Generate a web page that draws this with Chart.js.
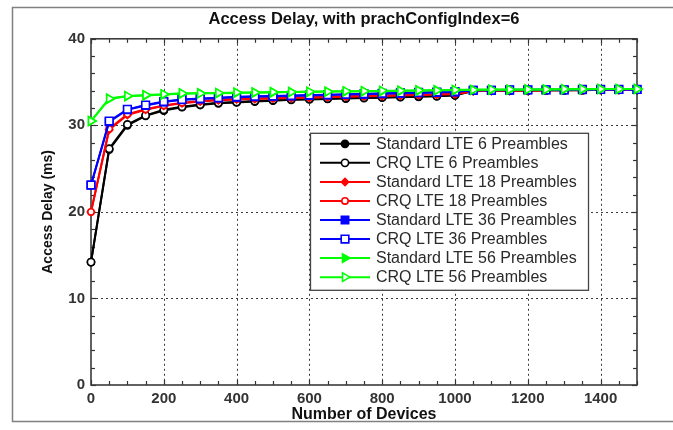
<!DOCTYPE html>
<html><head><meta charset="utf-8">
<script src="https://cdn.jsdelivr.net/npm/chart.js@4"></script>
<style>html,body{margin:0;padding:0;background:#fff}#c{display:block}</style>
</head><body>
<canvas id="c" width="673" height="430"></canvas>
<script>
// ---------- DATA ----------
const devices = [0,50,100,150,200,250,300,350,400,450,500,550,600,650,700,750,800,850,900,950,1000,1050,1100,1150,1200,1250,1300,1350,1400,1450,1500];
const std6  = [14.2,27.2,30.0,31.1,31.7,32.1,32.35,32.55,32.65,32.75,32.85,32.95,33.0,33.05,33.1,33.15,33.2,33.25,33.3,33.35,33.45,34.0,34.0,34.0,34.0,34.05,34.05,34.05,34.1,34.1,34.1];
const crq6  = [14.2,27.3,30.1,31.15,31.8,32.15,32.4,32.6,32.7,32.8,32.9,33.0,33.05,33.1,33.15,33.2,33.25,33.3,33.35,33.4,33.5,34.0,34.0,34.0,34.05,34.05,34.05,34.1,34.1,34.1,34.1];
const std18 = [20.0,29.5,31.2,31.8,32.25,32.55,32.75,32.9,33.0,33.05,33.1,33.15,33.2,33.25,33.3,33.35,33.4,33.45,33.5,33.55,33.6,33.95,34.0,34.0,34.0,34.05,34.05,34.05,34.1,34.1,34.1];
const crq18 = [20.0,29.6,31.3,31.85,32.3,32.6,32.8,32.95,33.05,33.1,33.15,33.2,33.25,33.3,33.35,33.4,33.45,33.5,33.55,33.6,33.65,34.0,34.0,34.05,34.05,34.05,34.1,34.1,34.1,34.1,34.1];
const std36 = [23.1,30.4,31.8,32.3,32.7,32.95,33.05,33.15,33.25,33.3,33.35,33.4,33.45,33.5,33.55,33.6,33.65,33.7,33.75,33.8,33.85,34.05,34.05,34.05,34.1,34.1,34.1,34.1,34.15,34.15,34.15];
const crq36 = [23.1,30.5,31.85,32.35,32.75,33.0,33.1,33.2,33.3,33.35,33.4,33.45,33.5,33.55,33.6,33.65,33.7,33.75,33.8,33.85,33.9,34.05,34.05,34.1,34.1,34.1,34.1,34.15,34.15,34.15,34.15];
const std56 = [30.5,33.05,33.35,33.45,33.55,33.65,33.7,33.7,33.75,33.8,33.8,33.85,33.85,33.9,33.9,33.95,33.95,34.0,34.0,34.05,34.05,34.1,34.1,34.1,34.15,34.15,34.15,34.15,34.2,34.2,34.2];
const crq56 = [30.5,33.1,33.4,33.5,33.6,33.7,33.7,33.75,33.8,33.8,33.85,33.85,33.9,33.9,33.95,33.95,34.0,34.0,34.05,34.05,34.1,34.1,34.15,34.15,34.15,34.15,34.2,34.2,34.2,34.2,34.2];
const seriesLabels = ['Standard LTE 6 Preambles','CRQ LTE 6 Preambles','Standard LTE 18 Preambles','CRQ LTE 18 Preambles','Standard LTE 36 Preambles','CRQ LTE 36 Preambles','Standard LTE 56 Preambles','CRQ LTE 56 Preambles'];
const xTickValues = [0,200,400,600,800,1000,1200,1400];
const yTickValues = [0,10,20,30,40];
const titleText = 'Access Delay, with prachConfigIndex=6';
const xTitle = 'Number of Devices';
const yTitle = 'Access Delay (ms)';

// ---------- STYLES ----------
const seriesValues = [std6,crq6,std18,crq18,std36,crq36,std56,crq56];
const styles = [
  {c:'#000000', p:'circle',  r:3.6, fill:true,  rot:0},
  {c:'#000000', p:'circle',  r:3.6, fill:false, rot:0},
  {c:'#ff0000', p:'rectRot', r:3.6, fill:true,  rot:0},
  {c:'#ff0000', p:'circle',  r:3.2, fill:false, rot:0},
  {c:'#0000ff', p:'rect',    r:5.2, fill:true,  rot:0},
  {c:'#0000ff', p:'rect',    r:5.4, fill:false, rot:0},
  {c:'#00ff00', p:'triangle',r:5.0, fill:true,  rot:90},
  {c:'#00ff00', p:'triangle',r:5.0, fill:false, rot:90}
];

const datasets = seriesValues.map((vals,i)=>({
  label: seriesLabels[i],
  data: devices.map((d,k)=>({x:d,y:vals[k]})),
  borderColor: styles[i].c,
  backgroundColor: styles[i].fill ? styles[i].c : '#ffffff',
  borderWidth: 2,
  pointStyle: styles[i].p,
  pointRadius: styles[i].r,
  pointRotation: styles[i].rot,
  pointBorderWidth: 1.6,
  pointBorderColor: styles[i].c,
  pointBackgroundColor: styles[i].fill ? styles[i].c : '#ffffff',
  tension: 0,
  clip: false,
  order: seriesValues.length - i
}));

function drawMarker(ctx, st, x, y){
  const r = st.r;
  ctx.save();
  ctx.translate(x,y);
  ctx.rotate(st.rot*Math.PI/180);
  ctx.beginPath();
  if (st.p==='circle'){ ctx.arc(0,0,r,0,Math.PI*2); }
  else if (st.p==='rect'){ const s=r*Math.SQRT1_2; ctx.rect(-s,-s,2*s,2*s); }
  else if (st.p==='rectRot'){ ctx.moveTo(0,-r); ctx.lineTo(r,0); ctx.lineTo(0,r); ctx.lineTo(-r,0); ctx.closePath(); }
  else if (st.p==='triangle'){ const s=r; ctx.moveTo(0,-s); ctx.lineTo(s*0.866,s*0.5); ctx.lineTo(-s*0.866,s*0.5); ctx.closePath(); }
  ctx.fillStyle = st.fill ? st.c : '#ffffff';
  ctx.fill();
  ctx.lineWidth = 1.6; ctx.strokeStyle = st.c; ctx.stroke();
  ctx.restore();
}

const framePlugin = {
  id:'frameGrid',
  beforeDraw(chart){
    const ctx = chart.ctx;
    ctx.save();
    ctx.fillStyle='#ffffff'; ctx.fillRect(0,0,chart.width,chart.height);
    ctx.strokeStyle='#808080'; ctx.lineWidth=1.5;
    ctx.strokeRect(12.5,7.5,chart.width+10,414);
    ctx.restore();
  },
  beforeDatasetsDraw(chart){
    const {ctx, chartArea:a, scales:{x,y}} = chart;
    ctx.save();
    const ln=(x1,y1,x2,y2)=>{ctx.beginPath();ctx.moveTo(x1,y1);ctx.lineTo(x2,y2);ctx.stroke();};
    // dotted grid
    ctx.strokeStyle='#3a3a3a'; ctx.lineWidth=1; ctx.setLineDash([2,3]);
    x.ticks.forEach(t=>{ if(t.value<=x.min||t.value>=x.max) return;
      const p=Math.round(x.getPixelForValue(t.value))+0.5; ln(p,a.top,p,a.bottom); });
    y.ticks.forEach(t=>{ if(t.value<=y.min||t.value>=y.max) return;
      const p=Math.round(y.getPixelForValue(t.value))+0.5; ln(a.left,p,a.right,p); });
    ctx.setLineDash([]);
    // tick marks inward on all sides
    ctx.strokeStyle='#333'; ctx.lineWidth=1.2;
    for(let v=x.min; v<=x.max; v+=50){
      const p=Math.round(x.getPixelForValue(v))+0.5; const L = (v%200===0)?5:4;
      ln(p,a.bottom,p,a.bottom-L); ln(p,a.top,p,a.top+L);
    }
    for(let v=y.min; v<=y.max; v+=2){
      const p=Math.round(y.getPixelForValue(v))+0.5; const L = (v%10===0)?5:4;
      ln(a.left,p,a.left+L,p); ln(a.right,p,a.right-L,p);
    }
    // box
    ctx.strokeStyle='#3a3a3a'; ctx.lineWidth=1.6;
    ctx.strokeRect(a.left, a.top, a.right-a.left, a.bottom-a.top);
    ctx.restore();
  },
  afterDraw(chart){
    const {ctx, chartArea:a} = chart;
    const bx = a.left + 219, by = a.top + 94, bw = 278, bh = 157;
    ctx.save();
    ctx.fillStyle='#ffffff'; ctx.fillRect(bx,by,bw,bh);
    ctx.strokeStyle='#444'; ctx.lineWidth=1.3; ctx.strokeRect(bx+0.5,by+0.5,bw,bh);
    ctx.font = '16px "Liberation Sans", Arial, sans-serif';
    ctx.textBaseline='middle'; ctx.textAlign='left';
    chart.data.datasets.forEach((ds,i)=>{
      const yy = by + 11 + i*19.05;
      ctx.strokeStyle = styles[i].c; ctx.lineWidth=2;
      ctx.beginPath(); ctx.moveTo(bx+10,yy); ctx.lineTo(bx+60,yy); ctx.stroke();
      drawMarker(ctx, styles[i], bx+35, yy);
      ctx.fillStyle='#2a2a2a';
      ctx.fillText(ds.label, bx+66, yy+0.5);
    });
    ctx.restore();
  }
};

new Chart(document.getElementById('c'), {
  type:'line',
  data:{ datasets },
  plugins:[framePlugin],
  options:{
    responsive:false, animation:false, devicePixelRatio:1,
    layout:{ padding:{ left:0, right:36, top:0, bottom:0 } },
    plugins:{
      legend:{ display:false },
      tooltip:{ enabled:false },
      title:{ display:true, text:titleText, fullSize:false, color:'#111',
        font:{ family:'"Liberation Sans", Arial, sans-serif', size:16.5, weight:'bold' },
        padding:{ top:10, bottom:9 } }
    },
    scales:{
      x:{ type:'linear', min:0, max:1500,
        afterBuildTicks(s){ s.ticks = xTickValues.map(v=>({value:v})); },
        afterFit(s){ s.height = 45; },
        grid:{ display:false, drawTicks:false }, border:{ display:false },
        ticks:{ padding:5, color:'#333', autoSkip:false, maxRotation:0,
          callback:(v)=>String(v),
          font:{ family:'"Liberation Sans", Arial, sans-serif', size:15, weight:'bold' } },
        title:{ display:true, text:xTitle, color:'#111', padding:{top:0,bottom:6},
          font:{ family:'"Liberation Sans", Arial, sans-serif', size:16, weight:'bold' } }
      },
      y:{ type:'linear', min:0, max:40,
        afterBuildTicks(s){ s.ticks = yTickValues.map(v=>({value:v})); },
        afterFit(s){ s.width = 91; },
        grid:{ display:false, drawTicks:false }, border:{ display:false },
        ticks:{ padding:6, color:'#333', callback:(v)=>String(v),
          font:{ family:'"Liberation Sans", Arial, sans-serif', size:15, weight:'bold' } },
        title:{ display:true, text:yTitle, color:'#111', padding:{top:40,bottom:0},
          font:{ family:'"Liberation Sans", Arial, sans-serif', size:14, weight:'bold' } }
      }
    }
  }
});
</script>
</body></html>
